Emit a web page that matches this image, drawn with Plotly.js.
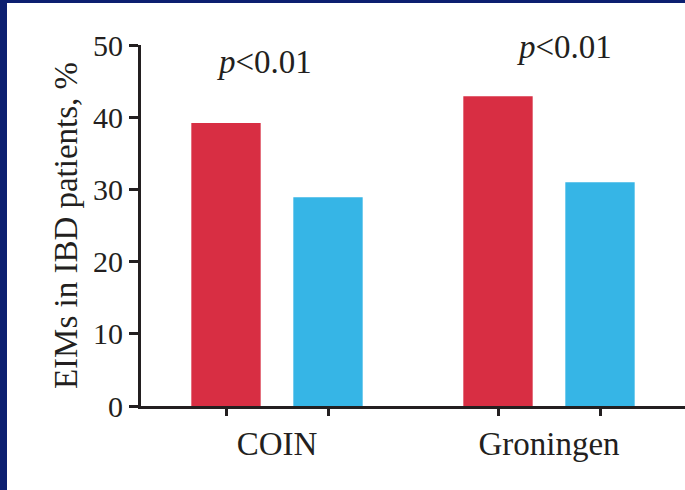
<!DOCTYPE html>
<html>
<head>
<meta charset="utf-8">
<script src="https://cdn.plot.ly/plotly-3.0.1.min.js"></script>
<style>
  html, body { margin: 0; padding: 0; background: #ffffff; }
  #frame { width: 685px; height: 490px; box-sizing: border-box; border-left: 7px solid #0c1f70; border-top: 3px solid #0c1f70; background: #fff; }
  #chart { width: 678px; height: 487px; }
</style>
</head>
<body>
<div id="frame"><div id="chart"></div></div>
<script>
// Data
const categories = ["COIN", "Groningen"];
const seriesA = [39.2, 42.9];   // red bars
const seriesB = [28.9, 31.0];   // blue bars
const yTicks = [0, 10, 20, 30, 40, 50];
const pLabels = ["<i>p</i>&lt;0.01", "<i>p</i>&lt;0.01"];
const pHeights = [47.6, 49.7];

// Style / layout constants
const BARGAP = 0.25;
const BARGROUPGAP = 0.32;
const red = "#d82e43";
const blue = "#36b5e6";
const ink = "#231f20";
const serif = "Liberation Serif, Times New Roman, serif";

// bar centre offsets for grouped bars (derived from bargap)
const slot = (1 - BARGAP) / 2;
const barCentres = [];
categories.forEach((c, i) => {
  barCentres.push(i - slot / 2);
  barCentres.push(i + slot / 2);
});

const traces = [
  { type: "bar", x: categories, y: seriesA, marker: { color: red }, showlegend: false, hoverinfo: "skip" },
  { type: "bar", x: categories, y: seriesB, marker: { color: blue }, showlegend: false, hoverinfo: "skip" },
  { type: "scatter", x: barCentres, y: barCentres.map(() => null), xaxis: "x2", mode: "markers", showlegend: false, hoverinfo: "skip" }
];

const layout = {
  width: 678, height: 487,
  margin: { l: 134, r: 0, t: 42, b: 84 },
  paper_bgcolor: "#ffffff", plot_bgcolor: "#ffffff",
  barmode: "group", bargap: BARGAP, bargroupgap: BARGROUPGAP,
  font: { family: serif, color: ink },
  xaxis: {
    type: "category", range: [-0.5, 1.5],
    showline: true, linecolor: ink, linewidth: 3,
    ticks: "", showgrid: false, zeroline: false,
    tickfont: { family: serif, size: 33, color: ink },
    ticklabelstandoff: 6
  },
  xaxis2: {
    overlaying: "x", anchor: "y", side: "bottom", type: "linear", range: [-0.5, 1.5],
    tickmode: "array", tickvals: barCentres, showticklabels: false,
    ticks: "outside", ticklen: 9, tickwidth: 3, tickcolor: ink,
    showline: false, showgrid: false, zeroline: false
  },
  yaxis: {
    range: [0, 50], tickmode: "array", tickvals: yTicks,
    showline: true, linecolor: ink, linewidth: 3,
    ticks: "outside", ticklen: 9, tickwidth: 3, tickcolor: ink,
    showgrid: false, zeroline: false,
    tickfont: { family: serif, size: 30, color: ink },
    title: { text: "EIMs in IBD patients, %", font: { family: serif, size: 33, color: ink }, standoff: 6 }
  },
  annotations: pLabels.map((t, i) => ({
    x: i, y: pHeights[i], xref: "x", yref: "y",
    text: t, showarrow: false, xanchor: "center", yanchor: "middle",
    xshift: i === 0 ? -13 : 15,
    font: { family: serif, size: 33, color: ink }
  }))
};

Plotly.newPlot("chart", traces, layout, { displayModeBar: false, staticPlot: true });
</script>
</body>
</html>
